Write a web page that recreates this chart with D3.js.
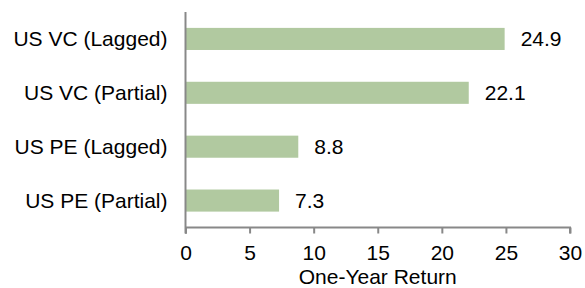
<!DOCTYPE html>
<html lang="en">
<head>
  <meta charset="UTF-8">
  <title>One-Year Return</title>
  <script src="https://d3js.org/d3.v7.min.js"></script>
  <style>
    body { margin: 0; background: #fff; }
    text { font-family: "Liberation Sans", Arial, sans-serif; fill: #000; }
  </style>
</head>
<body>
  <svg id="chart" width="585" height="288"></svg>

  <script>
    const categories = ["US VC (Lagged)", "US VC (Partial)", "US PE (Lagged)", "US PE (Partial)"];
    const returns = [24.9, 22.1, 8.8, 7.3];
    const xTicks = [0, 5, 10, 15, 20, 25, 30];
    const xTitle = "One-Year Return";

    const width = 585;
    const height = 288;
    const margin = { top: 12, right: 15, bottom: 60.5, left: 185.5 };
    const chartWidth = width - margin.left - margin.right;
    const chartHeight = height - margin.top - margin.bottom;
    const fontSize = "21px";

    const data = categories.map((c, i) => ({ name: c, value: returns[i] }));

    const svg = d3.select("#chart");
    const chart = svg.append("g").attr("transform", `translate(${margin.left}, ${margin.top})`);

    const xScale = d3.scaleLinear().domain([0, 30]).range([0, chartWidth]);
    const yScale = d3.scaleBand()
      .domain(categories)
      .range([0, chartHeight])
      .paddingInner(0.59)
      .paddingOuter(0.295);

    // bars
    chart.selectAll(".bar")
      .data(data)
      .enter()
      .append("rect")
      .attr("class", "bar")
      .attr("x", 0)
      .attr("y", d => yScale(d.name))
      .attr("width", d => xScale(d.value))
      .attr("height", yScale.bandwidth())
      .attr("fill", "#b1c9a0");

    // value labels
    chart.selectAll(".bar-label")
      .data(data)
      .enter()
      .append("text")
      .attr("class", "bar-label")
      .attr("x", d => xScale(d.value) + 16)
      .attr("y", d => yScale(d.name) + yScale.bandwidth() / 2)
      .attr("dy", "0.35em")
      .style("font-size", fontSize)
      .text(d => d.value.toFixed(1));

    // category labels
    chart.selectAll(".category-label")
      .data(data)
      .enter()
      .append("text")
      .attr("class", "category-label")
      .attr("x", -18)
      .attr("y", d => yScale(d.name) + yScale.bandwidth() / 2)
      .attr("dy", "0.35em")
      .attr("text-anchor", "end")
      .style("font-size", fontSize)
      .text(d => d.name);

    // x axis
    const xAxis = chart.append("g")
      .attr("transform", `translate(0, ${chartHeight})`)
      .call(d3.axisBottom(xScale).tickValues(xTicks).tickSize(6).tickPadding(12));
    xAxis.select(".domain").attr("stroke", "#888").attr("stroke-width", 2).attr("d", `M0.5,6V0H${chartWidth}V6`);
    xAxis.selectAll(".tick line").attr("stroke", "#888").attr("stroke-width", 2);
    xAxis.selectAll(".tick text")
      .style("font-size", fontSize)
      .style("font-family", "Liberation Sans, Arial, sans-serif")
      .attr("fill", "#000");

    // y axis line
    chart.append("line")
      .attr("x1", 0).attr("x2", 0)
      .attr("y1", 0).attr("y2", chartHeight + 6)
      .attr("stroke", "#888")
      .attr("stroke-width", 2);

    chart.append("text")
      .attr("x", chartWidth / 2)
      .attr("y", chartHeight + 56)
      .attr("text-anchor", "middle")
      .style("font-size", fontSize)
      .text(xTitle);
  </script>
</body>
</html>
